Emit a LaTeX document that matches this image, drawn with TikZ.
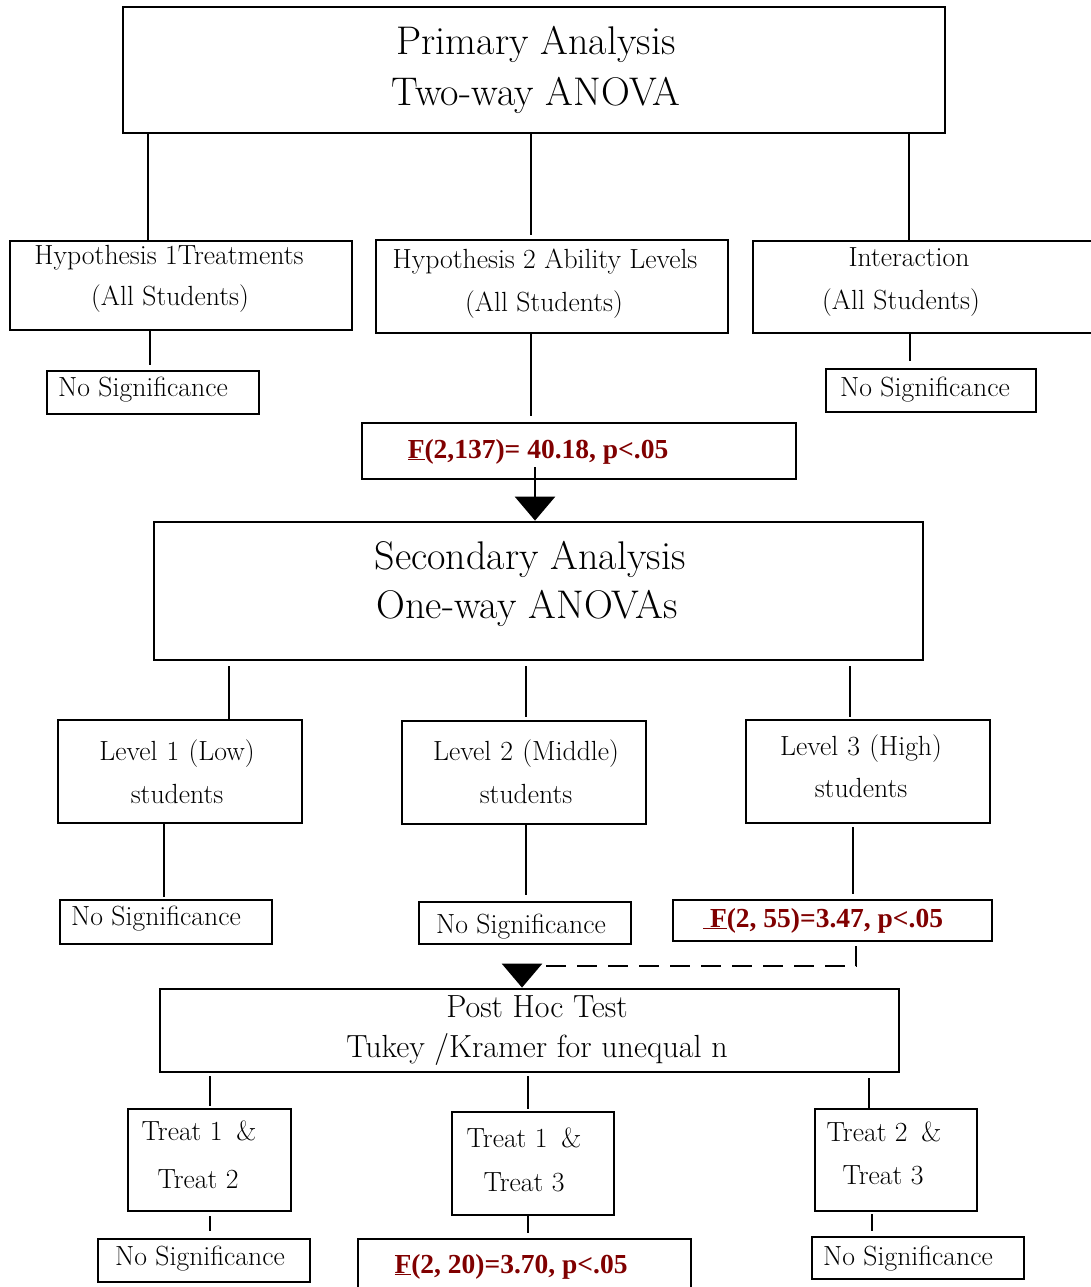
\documentclass[tikz,border=0pt]{standalone}
\usepackage{fontspec}
\newfontfamily\fboldfont{Liberation Serif}
\usetikzlibrary{arrows.meta}
\definecolor{fred}{RGB}{128,0,0}
\tikzset{
  box/.style 2 args={draw, line width=2.8pt, inner sep=0pt, minimum width=#1, minimum height=#2},
  conn/.style={line width=2.8pt},
  dasharrow/.style={line width=2.8pt, dash pattern=on 20pt off 11pt, -{Triangle[width=40pt,length=24pt]}},
  tbig/.style={font=\fontsize{40}{44}\selectfont, anchor=mid, inner sep=0pt, yshift=-9pt},
  tpost/.style={font=\fontsize{32}{34}\selectfont, anchor=mid, inner sep=0pt, yshift=-6pt},
  tmid/.style={font=\fontsize{27.7}{30}\selectfont, anchor=mid, inner sep=0pt, yshift=-5pt},
  tf/.style={font=\fboldfont\fontsize{27.5}{30}\selectfont\bfseries, text=fred, anchor=mid, inner sep=0pt, yshift=-5pt},
}
\begin{document}
\begin{tikzpicture}[x=1pt,y=-1pt]
\useasboundingbox (0,0) rectangle (1091,1287);
% boxes
\node[box={822pt}{126pt}] (prim) at (534,70) {};
\node[box={342pt}{89pt}] (h1) at (181,285.5) {};
\node[box={352pt}{93pt}] (h2) at (552,286.5) {};
\node[box={342pt}{92pt}] (hint) at (924,287) {};
\node[box={212pt}{43pt}] (ns1) at (153,392.5) {};
\node[box={210pt}{43pt}] (nsi) at (931,390.5) {};
\node[box={434pt}{56pt}] (f1) at (579,451) {};
\node[box={769pt}{138pt}] (sec) at (538.5,591) {};
\node[box={244pt}{103pt}] (l1) at (180,771.5) {};
\node[box={244pt}{103pt}] (l2) at (524,772.5) {};
\node[box={244pt}{103pt}] (l3) at (868,771.5) {};
\node[box={212pt}{44pt}] (ns2) at (166,922) {};
\node[box={212pt}{42pt}] (ns3) at (525,923) {};
\node[box={319pt}{41pt}] (f2) at (832.5,920.5) {};
\node[box={739pt}{83pt}] (post) at (529.5,1030.5) {};
\node[box={163pt}{102pt}] (t12) at (209.5,1160) {};
\node[box={162pt}{103pt}] (t13) at (533,1163.5) {};
\node[box={162pt}{102pt}] (t23) at (896,1160) {};
\node[box={212pt}{43pt}] (ns4) at (204,1260.5) {};
\node[box={333pt}{62pt}] (f3) at (524.5,1270) {};
\node[box={212pt}{42pt}] (ns5) at (918,1258) {};
% texts
\node[tbig] (tp1) at (536,43) {Primary Analysis};
\node[tbig] (tp2) at (536,94) {Two-way ANOVA};
\node[tmid] (th1a) at (169,257) {Hypothesis 1Treatments};
\node[tmid] (th1b) at (170,298) {(All Students)};
\node[tmid] (th2a) at (545,261) {Hypothesis 2 Ability Levels};
\node[tmid] (th2b) at (544,304) {(All Students)};
\node[tmid] (tia) at (909,259) {Interaction};
\node[tmid] (tib) at (901,302) {(All Students)};
\node[tmid] (tns1) at (143,389) {No Significance};
\node[tmid] (tnsi) at (925,389) {No Significance};
\node[tf] (tf1) at (538,451) {\underline{F}(2,137)= 40.18, p<.05};
\node[tbig] (ts1) at (530,558) {Secondary Analysis};
\node[tbig] (ts2) at (527,607) {One-way ANOVAs};
\node[tmid] (tl1a) at (177,753) {Level\,\,1\,\,(Low)};
\node[tmid] (tl1b) at (177,796) {students};
\node[tmid] (tl2a) at (526,753) {Level\,\,2\,\,(Middle)};
\node[tmid] (tl2b) at (526,796) {students};
\node[tmid] (tl3a) at (861,748) {Level\,\,3\,\,(High)};
\node[tmid] (tl3b) at (861,790) {students};
\node[tmid] (tns2) at (156,918) {No Significance};
\node[tmid] (tns3) at (521,926) {No Significance};
\node[tf] (tf2) at (823,920) {\underline{\hspace{7pt}F}(2, 55)=3.47, p<.05};
\node[tpost] (tph1) at (537,1009) {Post Hoc Test};
\node[tpost] (tph2) at (537,1049) {Tukey /Kramer for unequal n};
\node[tmid] (tt12a) at (199,1133) {Treat 1\,\,\,\&};
\node[tmid] (tt12b) at (198,1181) {Treat 2};
\node[tmid] (tt13a) at (524,1140) {Treat 1\,\,\,\&};
\node[tmid] (tt13b) at (524,1184) {Treat 3};
\node[tmid] (tt23a) at (884,1134) {Treat 2\,\,\,\&};
\node[tmid] (tt23b) at (883,1177) {Treat 3};
\node[tmid] (tns4) at (200,1258) {No Significance};
\node[tf] (tf3) at (511,1266) {\underline{F}(2, 20)=3.70, p<.05};
\node[tmid] (tns5) at (908,1258) {No Significance};
% connector x positions
\coordinate (xa) at (148,0);
\coordinate (xb) at (531,0);
\coordinate (xc) at (909,0);
\coordinate (xd) at (150,0);
\coordinate (xe) at (910,0);
\coordinate (xg) at (229,0);
\coordinate (xh) at (526,0);
\coordinate (xi) at (850,0);
\coordinate (xj) at (164,0);
\coordinate (xk) at (853,0);
\coordinate (xm) at (210,0);
\coordinate (xn) at (528,0);
\coordinate (xo) at (869,0);
\coordinate (xp) at (872,0);
% connectors
\draw[conn] (prim.south -| xa) -- (h1.north -| xa);
\draw[conn, shorten >=4pt] (prim.south -| xb) -- (h2.north -| xb);
\draw[conn] (prim.south -| xc) -- (hint.north -| xc);
\draw[conn, shorten >=5pt] (h1.south -| xd) -- (ns1.north -| xd);
\draw[conn, shorten >=6pt] (h2.south -| xb) -- (f1.north -| xb);
\draw[conn, shorten >=7pt] (hint.south -| xe) -- (nsi.north -| xe);
\draw[conn, shorten <=5pt] (sec.south -| xg) -- (l1.north -| xg);
\draw[conn, shorten <=5pt, shorten >=3pt] (sec.south -| xh) -- (l2.north -| xh);
\draw[conn, shorten <=5pt, shorten >=2pt] (sec.south -| xi) -- (l3.north -| xi);
\draw[conn, shorten >=2pt] (l1.south -| xj) -- (ns2.north -| xj);
\draw[conn, shorten >=6pt] (l2.south -| xh) -- (ns3.north -| xh);
\draw[conn, shorten <=3pt, shorten >=5pt] (l3.south -| xk) -- (f2.north -| xk);
\draw[conn, shorten <=3pt, shorten >=2pt] (post.south -| xm) -- (t12.north -| xm);
\draw[conn, shorten <=3pt, shorten >=2pt] (post.south -| xn) -- (t13.north -| xn);
\draw[conn, shorten <=5pt] (post.south -| xo) -- (t23.north -| xo);
\draw[conn, shorten <=4pt, shorten >=7pt] (t12.south -| xm) -- (ns4.north -| xm);
\draw[conn, shorten >=5pt] (t13.south -| xn) -- (f3.north -| xn);
\draw[conn, shorten <=2pt, shorten >=5pt] (t23.south -| xp) -- (ns5.north -| xp);
% dashed arrows
\coordinate (d1s) at (535,467);
\draw[dasharrow, dash pattern=on 40pt off 10pt] (d1s) -- (sec.north -| d1s);
\coordinate (d2a) at (856,0);
\coordinate (d2b) at (522,966);
\draw[dasharrow, shorten <=4pt] (f2.south -| d2a) |- (d2b) -- (post.north -| d2b);
\end{tikzpicture}
\end{document}
